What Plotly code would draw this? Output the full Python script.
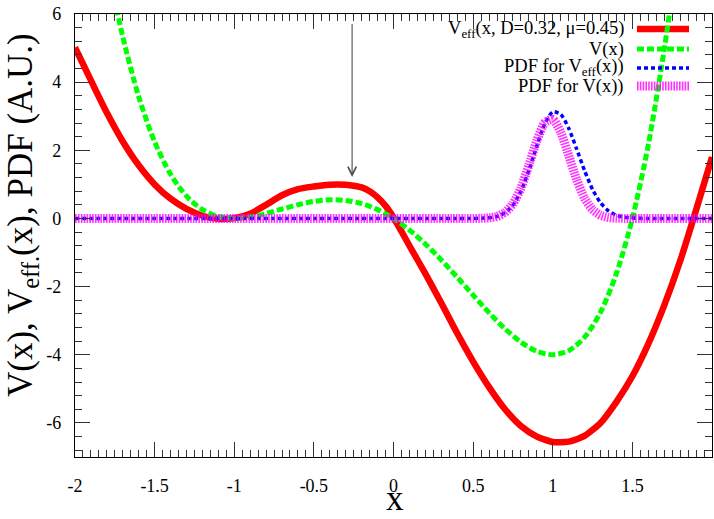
import plotly.graph_objects as go

# ---------------- data ----------------
veff_x = [-2.0, -1.9, -1.8, -1.7, -1.6, -1.5, -1.4, -1.3, -1.2, -1.1, -1.0,
          -0.9, -0.8, -0.7, -0.6, -0.5, -0.45, -0.4, -0.35, -0.3, -0.25, -0.2,
          -0.15, -0.1, -0.05, 0.0, 0.05, 0.1, 0.2, 0.3, 0.4, 0.5, 0.6, 0.7, 0.8,
          0.9, 1.0, 1.1, 1.2, 1.3, 1.4, 1.5, 1.6, 1.7, 1.8, 1.9, 2.0]
veff_y = [5.02, 4.05, 3.10, 2.26, 1.56, 1.00, 0.58, 0.28, 0.08, -0.01, 0.01,
          0.14, 0.40, 0.68, 0.86, 0.94, 0.97, 0.99, 1.00, 0.99, 0.96, 0.91,
          0.80, 0.62, 0.37, 0.03, -0.38, -0.80, -1.62, -2.48, -3.37, -4.20, -4.95, -5.60, -6.09,
          -6.40, -6.56, -6.55, -6.38, -6.00, -5.38, -4.63, -3.68, -2.55, -1.25, 0.25, 1.80]

v_x = [-1.8, -1.75, -1.7, -1.6, -1.5, -1.4, -1.3, -1.2, -1.1, -1.0, -0.9, -0.8,
       -0.7, -0.6, -0.5, -0.4, -0.3, -0.2, -0.1, 0.0, 0.1, 0.2, 0.3, 0.4, 0.5,
       0.6, 0.7, 0.8, 0.9, 1.0, 1.1, 1.2, 1.3, 1.4, 1.5, 1.6, 1.7, 1.75, 1.8]
v_y = [7.603, 6.399, 5.331, 3.571, 2.25, 1.299, 0.655, 0.259, 0.057, 0.0, 0.043, 0.147,
       0.277, 0.403, 0.5, 0.547, 0.529, 0.435, 0.259, 0.0, -0.339, -0.749, -1.217, -1.725, -2.25,
       -2.765, -3.237, -3.629, -3.899, -4.0, -3.881, -3.485, -2.751, -1.613, 0.0, 2.163, 4.957, 6.617, 8.467]

pdf_x = [-2.0, -1.0, 0.0, 0.4, 0.45, 0.5, 0.55, 0.6, 0.65, 0.7, 0.75, 0.8, 0.85,
         0.9, 0.95, 1.0, 1.05, 1.1, 1.15, 1.2, 1.25, 1.3, 1.35, 1.4, 1.45, 1.5,
         1.55, 1.6, 1.65, 2.0]
pdf_veff = [0, 0, 0, 0, 0, 0.001, 0.005, 0.019, 0.061, 0.167, 0.39, 0.80, 1.41,
            2.13, 2.78, 3.13, 3.06, 2.65, 2.04, 1.40, 0.85, 0.46, 0.22, 0.093, 0.035, 0.012,
            0.003, 0.001, 0, 0]
pdf_v = [0, 0, 0, 0, 0, 0.001, 0.004, 0.017, 0.059, 0.175, 0.43, 0.89, 1.56,
         2.28, 2.81, 2.91, 2.53, 1.85, 1.14, 0.59, 0.26, 0.093, 0.029, 0.007, 0.002, 0,
         0, 0, 0, 0]

x_ticks = [-2, -1.5, -1, -0.5, 0, 0.5, 1, 1.5, 2]
x_ticklabels = ["-2", "-1.5", "-1", "-0.5", "0", "0.5", "1", "1.5", "2"]
y_ticks = [-6, -4, -2, 0, 2, 4, 6]
y_ticklabels = ["-6", "-4", "-2", "0", "2", "4", "6"]

legend_labels = ["V<sub>eff</sub>(x, D=0.32, μ=0.45)", "V(x)",
                 "PDF for V<sub>eff</sub>(x))", "PDF for V(x))"]
arrow_target = (-0.26, 1.22)
arrow_start = (-0.26, 5.75)

# ---------------- styling ----------------
FONT = "Liberation Serif"
RED, GREEN, BLUE, MAG = "#ff0000", "#00ff00", "#0000ff", "#ff00ff"
styles = [
    dict(color=RED, width=6.5, dash="solid"),
    dict(color=GREEN, width=5, dash="7px,3px"),
    dict(color=BLUE, width=3.5, dash="4px,3px"),
    dict(color=MAG, width=9, dash="1.6px,1.2px"),
]

fig = go.Figure()
fig.add_trace(go.Scatter(x=veff_x, y=veff_y, mode="lines", line=dict(**styles[0], shape="spline", smoothing=0.6)))
fig.add_trace(go.Scatter(x=v_x, y=v_y, mode="lines", line=dict(**styles[1], shape="spline", smoothing=0.8)))
fig.add_trace(go.Scatter(x=pdf_x, y=pdf_veff, mode="lines", line=dict(**styles[2], shape="spline", smoothing=0.6)))
fig.add_trace(go.Scatter(x=pdf_x, y=pdf_v, mode="lines", opacity=0.8,
                         line=dict(**styles[3], shape="spline", smoothing=0.6)))

W, H = 714, 519
ML, MR, MT, MB = 75, 2, 14, 62
PW, PH = W - ML - MR, H - MT - MB


def px(xp):
    return (xp - ML) / PW


def py(yp):
    return (H - MB - yp) / PH


# manual gnuplot-style key (text right-aligned, sample on the right)
row_y = [29, 49, 68, 86]
shapes = []
annotations = []
for i, (lab, st) in enumerate(zip(legend_labels, styles)):
    shapes.append(dict(type="line", xref="paper", yref="paper",
                       x0=px(637), x1=px(689), y0=py(row_y[i]), y1=py(row_y[i]),
                       line=dict(color=st["color"], width=st["width"], dash=st["dash"]),
                       opacity=0.8 if i == 3 else 1,
                       layer="below" if i < 2 else "above"))
    annotations.append(dict(xref="paper", yref="paper", x=px(626), y=py(row_y[i]),
                            text=lab, showarrow=False, xanchor="right", yanchor="middle",
                            font=dict(family=FONT, size=18.5, color="black")))

annotations.append(dict(x=arrow_target[0], y=arrow_target[1], ax=arrow_start[0], ay=arrow_start[1],
                        xref="x", yref="y", axref="x", ayref="y", showarrow=True,
                        arrowhead=5, arrowsize=1.5, arrowwidth=1.1, arrowcolor="#4d4d4d", text=""))

annotations.append(dict(xref="paper", yref="paper", x=px(22), y=py(215), textangle=-90,
                        text="V(x), V<sub>eff.</sub>(x), PDF (A.U.)", showarrow=False,
                        xanchor="center", yanchor="middle",
                        font=dict(family=FONT, size=35, color="black")))
annotations.append(dict(xref="paper", yref="paper", x=px(395), y=py(499),
                        text="x", showarrow=False, xanchor="center", yanchor="middle",
                        font=dict(family=FONT, size=35, color="black")))

axis_common = dict(showline=True, linecolor="black", linewidth=1.3, mirror="allticks",
                   ticks="inside", ticklen=15, tickwidth=1, tickcolor="#333333",
                   showgrid=False, zeroline=False,
                   tickfont=dict(family=FONT, size=18, color="black"))

fig.update_layout(
    width=W, height=H, margin=dict(l=ML, r=MR, t=MT, b=MB),
    paper_bgcolor="white", plot_bgcolor="white", showlegend=False,
    shapes=shapes, annotations=annotations,
    xaxis=dict(range=[-2, 2], tickmode="array", tickvals=x_ticks, ticktext=x_ticklabels,
               ticklabelstandoff=12,
               minor=dict(ticks="inside", ticklen=7, tickwidth=1, tickcolor="#333333",
                          tick0=-2, dtick=0.05, showgrid=False),
               **axis_common),
    yaxis=dict(range=[-7, 6], tickmode="array", tickvals=y_ticks, ticktext=y_ticklabels,
               ticklabelstandoff=9,
               minor=dict(ticks="inside", ticklen=7, tickwidth=1, tickcolor="#333333",
                          tick0=6, dtick=0.4, showgrid=False),
               **axis_common),
)

fig.write_html("out.html", config={"displayModeBar": False},
               post_script="document.body.style.margin='0';document.body.style.overflow='hidden';")
